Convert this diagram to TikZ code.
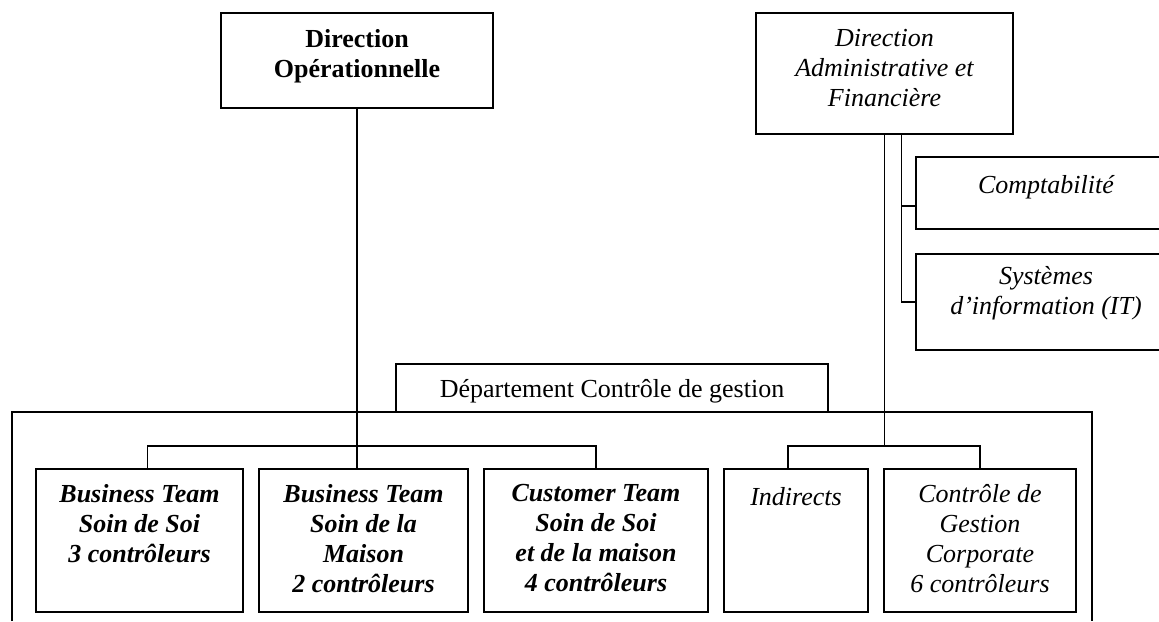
\documentclass[tikz,border=0pt]{standalone}
\usepackage{fontspec}
\setmainfont{Liberation Serif}
\usetikzlibrary{positioning}

\begin{document}
\begin{tikzpicture}[
    x=0.5pt, y=-0.5pt,
    node distance=8pt,
    unit/.style={rectangle, draw=black, line width=0.7pt, minimum height=71.5pt, inner sep=0pt, outer sep=0pt},
    txt/.style={align=center, inner sep=0pt, font=\fontsize{13}{15}\selectfont, execute at begin node=\strut},
    txtb/.style={txt, font=\fontsize{13}{15}\selectfont\bfseries},
    txti/.style={txt, font=\fontsize{13}{15}\selectfont\itshape},
    txtbi/.style={txt, font=\fontsize{13}{15}\selectfont\bfseries\itshape},
    link/.style={line width=0.7pt}
]
    \useasboundingbox (0,0) rectangle (1159,621);
    \clip (0,0) rectangle (1159,621);

    % directions
    \node[unit, anchor=north west, minimum width=136pt, minimum height=47.5pt,
        label={[txtb, below=8pt]north:{Direction\\Opérationnelle}}] (dirop) at (221,13) {};
    \node[unit, anchor=north west, minimum width=128.5pt, minimum height=60.5pt,
        label={[txti, below=8pt]north:{Direction\\Administrative et\\Financière}}] (daf) at (756,13) {};
    \node[unit, anchor=north west, minimum width=130pt, minimum height=36pt,
        label={[txti, below=7.5pt]north:{Comptabilité}}] (compta) at (916,157) {};
    \node[unit, anchor=north west, minimum width=130pt, minimum height=48pt,
        label={[txti, below=6pt]north:{Systèmes\\d’information (IT)}}] (si) at (916,254) {};

    % departement
    \draw[link] (12,621) |- (1092,412) -- (1092,621);
    \node[unit, anchor=north west, minimum width=216pt, minimum height=24pt,
        label={[txt, below=6pt]north:{Département Contrôle de gestion}}] (dcg) at (396,364) {};

    % equipes
    \node[unit, anchor=north west, minimum width=103.5pt,
        label={[txtbi, below=7.5pt]north:{Business Team\\Soin de Soi\\3 contrôleurs}}] (bt1) at (36,469) {};
    \node[unit, right=of bt1, minimum width=104.5pt,
        label={[txtbi, below=7.5pt]north:{Business Team\\Soin de la\\Maison\\2 contrôleurs}}] (bt2) {};
    \node[unit, right=of bt2, minimum width=112pt,
        label={[txtbi, below=7.5pt]north:{Customer Team\\Soin de Soi\\et de la maison\\4 contrôleurs}}] (ct3) {};
    \node[unit, right=of ct3, minimum width=72pt,
        label={[txti, below=7.5pt]north:{Indirects}}] (ind) {};
    \node[unit, right=of ind, minimum width=96pt,
        label={[txti, below=7.5pt]north:{Contrôle de\\Gestion\\Corporate\\6 contrôleurs}}] (cgc) {};

    \coordinate (bus) at (0,446);
    \coordinate (spine) at ([xshift=8.5pt]daf.south);

    \draw[link] (dirop.south) -- (dirop.south |- bt2.north);
    \draw[link] ([xshift=4pt]bt1.north) |- (bus -| ct3.north) -- (ct3.north);
    \draw[link] (daf.south) -- (daf.south |- bus);
    \draw[link] ([xshift=-4pt]ind.north) |- (bus -| cgc.north) -- (cgc.north);
    \draw[link] (spine) |- (si.west);
    \draw[link] ([yshift=-6.5pt]compta.west) -| (spine);
\end{tikzpicture}
\end{document}
